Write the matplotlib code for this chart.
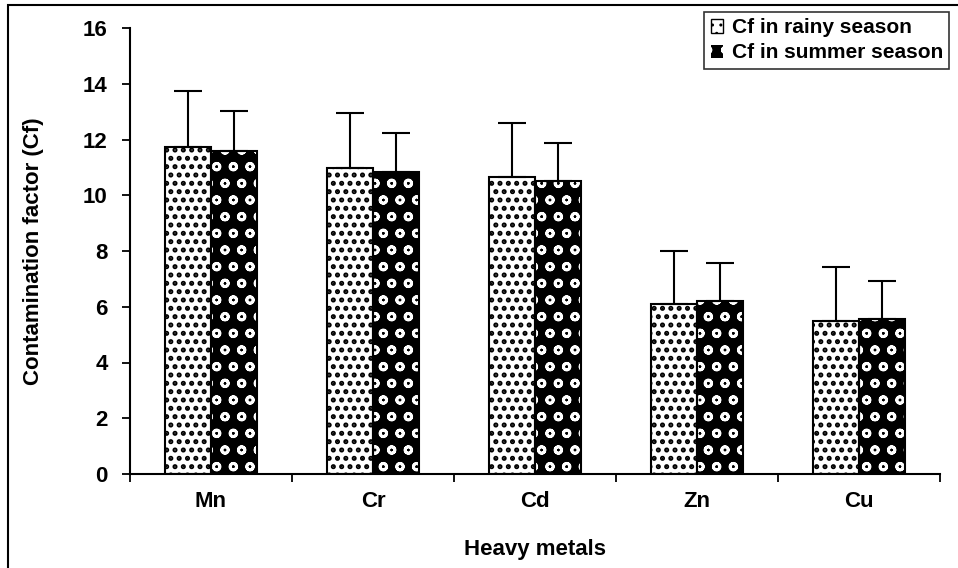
import numpy as np
import matplotlib
matplotlib.use('Agg')
import matplotlib.pyplot as plt
from matplotlib.patches import Rectangle

plt.rcParams['font.family'] = ['Liberation Sans', 'DejaVu Sans']
plt.rcParams['font.weight'] = 'bold'

# data
metals = ['Mn', 'Cr', 'Cd', 'Zn', 'Cu']
rainy = [11.74, 10.97, 10.67, 6.09, 5.50]
rainy_err = [2.00, 1.99, 1.92, 1.91, 1.93]
summer = [11.60, 10.82, 10.52, 6.22, 5.57]
summer_err = [1.42, 1.41, 1.37, 1.35, 1.35]

W, H = 958, 568
fig = plt.figure(figsize=(W / 100, H / 100), dpi=100)
ax = fig.add_axes([130 / W, 1 - 474 / H, 810 / W, 446 / H])

x = np.arange(len(metals))
bw = 0.284

# rainy: white with small black dots
with plt.rc_context({'hatch.linewidth': 2.4}):
    ax.bar(x - bw / 2, rainy, bw, color='white', edgecolor='black', hatch='..', linewidth=0)
    h1 = Rectangle((0, 0), 1, 1, facecolor='white', edgecolor='black', hatch='..', linewidth=1)
# summer: dark with white rings/gaps
with plt.rc_context({'hatch.linewidth': 2.0}):
    ax.bar(x + bw / 2, summer, bw, color='black', edgecolor='white', hatch='o', linewidth=0)
    h2 = Rectangle((0, 0), 1, 1, facecolor='black', edgecolor='white', hatch='o', linewidth=0)
ax.bar(x - bw / 2, rainy, bw, fill=False, edgecolor='black', linewidth=1.5)
ax.bar(x + bw / 2, summer, bw, fill=False, edgecolor='black', linewidth=1.5)

ax.errorbar(x - bw / 2, rainy, yerr=[np.zeros(len(rainy)), rainy_err], fmt='none',
            ecolor='black', elinewidth=1.5, capsize=10, capthick=1.5)
ax.errorbar(x + bw / 2, summer, yerr=[np.zeros(len(summer)), summer_err], fmt='none',
            ecolor='black', elinewidth=1.5, capsize=10, capthick=1.5)

ax.set_xlim(-0.5, len(metals) - 0.5)
ax.set_ylim(0, 16)
ax.set_yticks(range(0, 17, 2))
ax.set_xticks(x)
ax.set_xticklabels(metals)
ax.set_xticks(np.arange(-0.5, len(metals), 1), minor=True)
ax.tick_params(axis='x', which='major', length=0, pad=12, labelsize=16)
ax.tick_params(axis='x', which='minor', length=6, width=1.3, direction='out')
ax.tick_params(axis='y', length=6, width=1.3, direction='out', pad=10, labelsize=16)
for s in ['top', 'right']:
    ax.spines[s].set_visible(False)
for s in ['left', 'bottom']:
    ax.spines[s].set_linewidth(1.5)

ax.set_xlabel('Heavy metals', fontsize=16, fontweight='bold', labelpad=20)
ax.set_ylabel('Contamination factor (Cf)', fontsize=16, fontweight='bold', labelpad=28)

leg = ax.legend([h1, h2], ['Cf in rainy season', 'Cf in summer season'],
                loc='upper right', bbox_to_anchor=(949 / W, 1 - 12 / H),
                bbox_transform=fig.transFigure, fontsize=15, frameon=True,
                fancybox=False, handlelength=0.6, handleheight=0.6,
                handletextpad=0.4, borderpad=0.3, labelspacing=0.3, borderaxespad=0)
leg.get_frame().set_edgecolor('black')
leg.get_frame().set_linewidth(1.2)

# outer frame around the whole chart
fig.patches.append(Rectangle((8 / W, -0.05), 1.05, 1 - 5 / H + 0.05,
                             transform=fig.transFigure, fill=False,
                             edgecolor='black', linewidth=1.5))

fig.savefig('out.png', dpi=100)
